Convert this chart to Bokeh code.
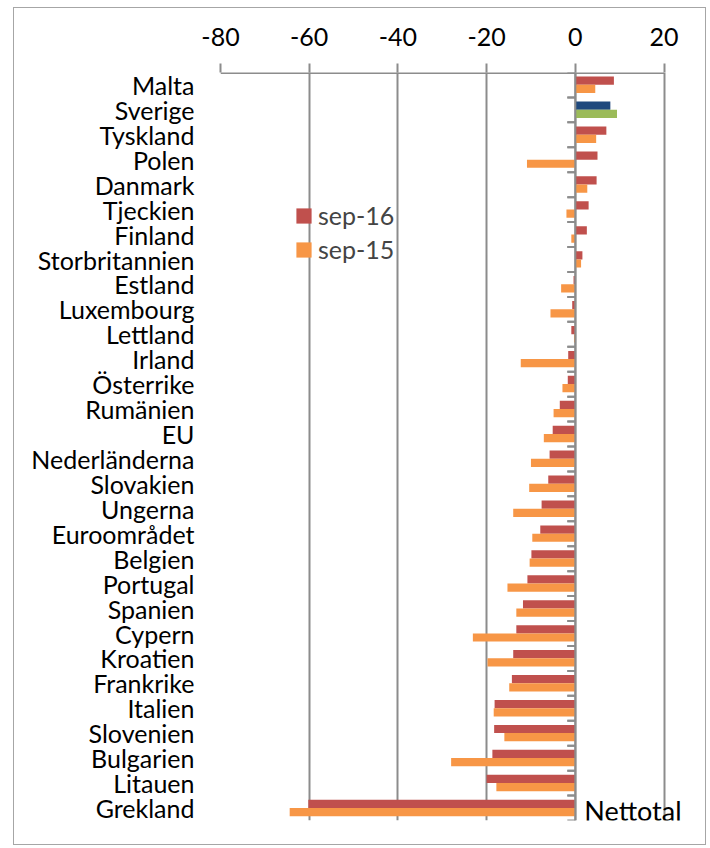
from bokeh.plotting import figure
from bokeh.models import (ColumnDataSource, FactorRange, FixedTicker, Span, Legend,
                          LegendItem, Label, Range1d)
from bokeh.transform import dodge
from bokeh.embed import file_html
from bokeh.resources import INLINE

categories = ["Malta", "Sverige", "Tyskland", "Polen", "Danmark", "Tjeckien", "Finland",
              "Storbritannien", "Estland", "Luxembourg", "Lettland", "Irland", "Österrike",
              "Rumänien", "EU", "Nederländerna", "Slovakien", "Ungerna", "Euroområdet",
              "Belgien", "Portugal", "Spanien", "Cypern", "Kroatien", "Frankrike", "Italien",
              "Slovenien", "Bulgarien", "Litauen", "Grekland"]
sep16 = [8.7, 7.9, 7.0, 5.0, 4.8, 3.0, 2.6, 1.6, -0.4, -0.7, -0.9, -1.6, -1.7, -3.5, -5.1,
         -5.8, -6.1, -7.6, -7.9, -9.9, -10.8, -11.8, -13.3, -14.0, -14.3, -18.2, -18.3,
         -18.7, -20.0, -60.2]
sep15 = [4.5, 9.4, 4.7, -10.9, 2.7, -2.0, -0.9, 1.3, -3.2, -5.6, -0.3, -12.3, -2.9, -4.9,
         -7.1, -10.0, -10.4, -14.0, -9.7, -10.3, -15.3, -13.3, -23.1, -19.8, -14.9, -18.4,
         -16.0, -28.0, -17.8, -64.4]
x_ticks = [-80, -60, -40, -20, 0, 20]
x_tick_labels = ["-80", "-60", "-40", "-20", "0", "20"]
series_names = ["sep-16", "sep-15"]
highlight = "Sverige"
corner_text = "Nettotal"

RED, ORANGE, BLUE, GREEN = "#C0504D", "#F79646", "#1F497D", "#9BBB59"
GRID = "#8c8c8c"
FONT = "Lato"
X_ROOM = 8  # extra room on the right of the frame for the corner text

c16 = [BLUE if c == highlight else RED for c in categories]
c15 = [GREEN if c == highlight else ORANGE for c in categories]

src = ColumnDataSource(dict(cat=categories, s16=sep16, s15=sep15, c16=c16, c15=c15,
                            zero=[0] * len(categories), tick=[-1.8] * len(categories)))

p = figure(width=693, height=838, y_range=FactorRange(factors=categories[::-1]),
           x_range=Range1d(x_ticks[0], x_ticks[-1] + X_ROOM), x_axis_location="above",
           output_backend="svg", toolbar_location=None,
           min_border_left=206, min_border_right=8, min_border_top=64, min_border_bottom=26)
p.styles = {"border": "1px solid #a6a6a6", "margin-left": "13px", "margin-top": "7px"}
p.outline_line_color = None
p.background_fill_color = "white"
p.border_fill_color = "white"

r16 = p.hbar(y=dodge("cat", 0.17, range=p.y_range), left="zero", right="s16", height=0.33,
             fill_color="c16", line_color=None, source=src)
r15 = p.hbar(y=dodge("cat", -0.16, range=p.y_range), left="zero", right="s15", height=0.33,
             fill_color="c15", line_color=None, source=src)

# category tick marks on the zero axis
p.segment(x0="zero", x1="tick", y0=dodge("cat", 0.5, range=p.y_range),
          y1=dodge("cat", 0.5, range=p.y_range), line_color=GRID, line_width=2, source=src)
p.segment(x0="zero", x1="tick", y0=dodge("cat", -0.5, range=p.y_range),
          y1=dodge("cat", -0.5, range=p.y_range), line_color=GRID, line_width=2, source=src)
p.add_layout(Span(location=0, dimension="height", line_color=GRID, line_width=2))

# top axis line limited to the tick span
n = len(categories)
p.segment(x0=[x_ticks[0]], x1=[x_ticks[-1]], y0=[n], y1=[n], line_color=GRID, line_width=3)

xa = p.xaxis[0]
xa.ticker = FixedTicker(ticks=x_ticks)
xa.major_label_overrides = dict(zip(x_ticks, x_tick_labels))
xa.axis_line_color = None
xa.major_tick_line_color = GRID
xa.major_tick_line_width = 2
xa.major_tick_out = 9
xa.major_tick_in = 0
xa.minor_tick_line_color = None
xa.major_label_standoff = 18
xa.major_label_text_font = FONT
xa.major_label_text_font_size = "25px"
xa.major_label_text_color = "black"

ya = p.yaxis[0]
ya.axis_line_color = None
ya.major_tick_line_color = None
ya.minor_tick_line_color = None
ya.major_label_standoff = 20
ya.major_label_text_font = FONT
ya.major_label_text_font_size = "25px"
ya.major_label_text_color = "black"

p.xgrid.ticker = FixedTicker(ticks=x_ticks)
p.xgrid.grid_line_color = GRID
p.xgrid.grid_line_width = 2
p.ygrid.grid_line_color = None

legend = Legend(items=[LegendItem(label=series_names[0], renderers=[r16], index=0),
                       LegendItem(label=series_names[1], renderers=[r15], index=0)],
                location=(74, 556), padding=0, margin=0, spacing=4,
                glyph_width=19, glyph_height=19, label_standoff=5,
                label_text_font=FONT, label_text_font_size="25px",
                border_line_color=None, background_fill_alpha=0)
p.add_layout(legend)

p.add_layout(Label(x=0, y=0.4, x_offset=9, text=corner_text,
                   text_font=FONT, text_font_size="27px", text_color="black",
                   text_baseline="alphabetic"))

open("out.html", "w").write(file_html(p, INLINE))
